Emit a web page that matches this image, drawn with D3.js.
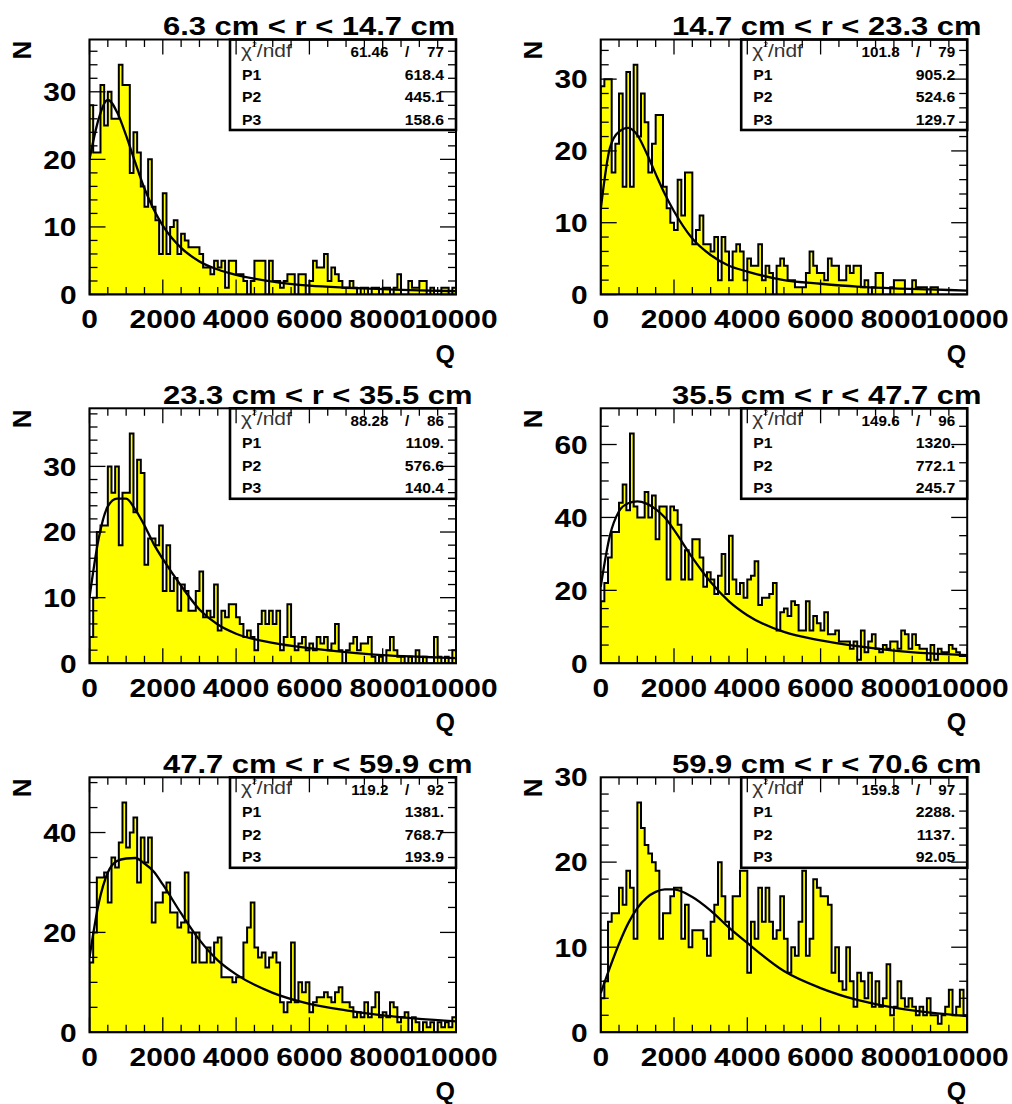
<!DOCTYPE html>
<html>
<head>
<meta charset="utf-8">
<script src="https://cdn.jsdelivr.net/npm/d3@7"></script>
<style>
  body { margin: 0; background: #fff; }
  svg { display: block; }
  text { font-family: "Liberation Sans", Arial, Helvetica, sans-serif; }
</style>
</head>
<body>
<svg id="chart" width="1012" height="1104"></svg>
<script>
// ---- Q histograms of six radial slices, 100 bins from 0 to 10000 ----
const qMin = 0, qMax = 10000, nBins = 100;

const titles = [
  "6.3 cm < r < 14.7 cm", "14.7 cm < r < 23.3 cm",
  "23.3 cm < r < 35.5 cm", "35.5 cm < r < 47.7 cm",
  "47.7 cm < r < 59.9 cm", "59.9 cm < r < 70.6 cm"
];

// bin contents, one array per slice
const counts1 = [
  28,21,21,31,25,30,26,26,34,31, 31,18,24,21,16,13,20,13,11,6,
  15,6,10,11,6,9,8,7,7,7, 6,4,4,3,5,4,5,1,5,5,
  3,3,2,0,2,5,5,5,0,5, 2,2,1,2,3,3,0,3,3,0,
  2,5,4,4,6,2,4,3,2,1, 1,2,1,0,1,1,0,1,1,0,
  1,1,0,1,3,0,0,2,1,1, 2,2,0,1,0,0,1,1,0,1];
const counts2 = [
  29,30,30,17,21,28,15,31,15,32, 22,28,24,17,21,25,25,15,12,10,
  9,16,11,17,17,7,9,11,7,7, 6,8,2,8,6,2,6,7,6,2,
  5,4,4,7,2,4,3,0,4,5, 4,2,2,1,1,1,3,6,4,3,
  3,2,5,4,4,2,2,4,3,4, 4,1,2,0,1,3,3,0,0,1,
  2,2,2,0,0,2,1,1,1,0, 1,1,0,0,0,0,0,0,0,0];
const counts3 = [
  4,10,20,21,21,30,26,30,18,26, 26,35,23,31,29,15,19,19,18,21,
  11,18,11,13,8,12,11,8,8,11, 14,7,8,7,12,5,8,7,9,9,
  7,6,4,5,4,2,6,8,6,8, 6,8,2,4,9,4,2,3,4,2,
  3,2,4,3,4,2,3,6,2,0, 2,3,4,2,3,3,4,1,0,1,
  0,2,4,2,1,1,0,1,0,2, 0,1,0,0,4,1,0,1,0,2];
const counts4 = [
  17,22,29,36,36,44,49,42,63,43, 40,40,47,40,46,34,43,43,23,43,
  42,38,23,31,23,34,34,29,21,25, 23,19,24,30,19,35,23,19,22,18,
  23,24,28,16,18,18,19,22,9,14, 15,13,17,16,9,9,17,9,13,11,
  9,14,8,8,9,6,6,6,4,6, 1,9,3,6,8,4,3,5,4,6,
  6,4,9,8,4,8,5,4,4,1, 5,1,4,3,3,5,4,3,2,2];
const counts5 = [
  14,20,31,31,32,26,35,33,38,46, 37,40,43,30,39,34,39,22,26,26,
  28,30,24,24,21,22,32,20,14,20, 14,14,17,14,18,19,11,11,11,10,
  11,11,18,21,26,17,15,16,13,15, 16,14,6,4,6,18,6,10,8,10,
  4,6,7,7,8,7,6,8,9,6, 6,5,3,4,3,6,3,5,8,3,
  4,3,6,5,2,3,4,0,3,2, 0,2,1,2,0,2,1,2,1,3];
const counts6 = [
  4,6,13,14,14,17,15,19,17,11, 27,24,22,21,20,19,11,14,14,16,
  17,17,11,15,10,12,12,12,11,9, 13,15,20,16,13,11,16,16,19,19,
  7,13,11,17,13,17,13,11,12,16, 11,7,10,9,13,19,9,11,18,17,
  16,16,15,7,10,6,5,10,6,3, 7,6,4,7,3,6,3,4,8,2,
  3,6,4,3,4,3,2,3,2,4, 2,2,1,2,3,5,2,3,5,2];

// fitted curve sampled along Q
const fitQ = [0,250,500,750,1000,1250,1500,1750,2000,2500,3000,3500,4000,5000,6000,7000,8000,9000,10000];
const fit1 = [20,26,28.8,27,23.5,19.5,15.7,12.6,10.2,6.9,4.9,3.7,2.9,1.9,1.3,1.0,0.8,0.6,0.5];
const fit2 = [11.8,20.4,22.7,23.2,22.2,19.7,16.8,14.0,11.6,7.8,5.5,4.0,3.2,2.0,1.5,1.1,0.85,0.7,0.55];
const fit3 = [10,19,23.9,25.1,25.1,23.4,21,18.2,15.9,11.8,8.2,5.9,4.5,3.1,2.3,1.7,1.25,1.0,0.8];
const fit4 = [21,35,41.7,43.9,44.4,43.8,42.3,40,36.6,29,22.3,17,13.2,8.6,6.3,4.7,3.5,2.7,2.2];
const fit5 = [15,25.8,32,34.3,34.8,34.9,33.8,32.2,29.6,23.8,18.5,14.4,11.6,7.9,5.7,4.4,3.4,2.7,2.2];
const fit6 = [4.6,7.6,10.4,12.8,14.6,15.8,16.5,16.8,16.8,15.9,14.3,12.3,10.5,7.2,5.2,3.8,2.9,2.3,1.9];

// fit statistics box
const chi2 = ["61.46","101.8","88.28","149.6","119.2","159.3"];
const ndf  = ["77","79","86","96","92","97"];
const parP1 = ["618.4","905.2","1109.","1320.","1381.","2288."];
const parP2 = ["445.1","524.6","576.6","772.1","768.7","1137."];
const parP3 = ["158.6","129.7","140.4","245.7","193.9","92.05"];

// axis ticks
const xTickLabels = [0,2000,4000,6000,8000,10000];
const yTickLabels = [[0,10,20,30],[0,10,20,30],[0,10,20,30],[0,20,40,60],[0,20,40],[0,10,20,30]];
const yMinorStep = [2,2,2,5,5,2];

const allCounts = [counts1,counts2,counts3,counts4,counts5,counts6];
const allFits = [fit1,fit2,fit3,fit4,fit5,fit6];

// ---- layout ----
const colLeft = [89.5, 600.7];
const rowTop = [39.5, 408.3, 777.3];
const frameW = 366.5, frameH = 255;
const titleX = [163, 672];
const SX = 1.15;           // horizontal glyph stretch of the labels

const svg = d3.select("#chart");

function label(g, x, y, str, opts) {
  return g.append("text")
    .attr("transform", `translate(${x},${y}) ${opts.rot ? `rotate(${opts.rot})` : ""} scale(${opts.sx || 1},1)`)
    .attr("font-size", opts.size)
    .attr("font-weight", opts.weight || "bold")
    .attr("text-anchor", opts.anchor || "start")
    .attr("fill", "#000")
    .text(str);
}

allCounts.forEach((counts, p) => {
  const col = p % 2, row = Math.floor(p / 2);
  const L = colLeft[col], T = rowTop[row], R = L + frameW, B = T + frameH;
  const yMax = 1.11 * d3.max(counts);

  const x = d3.scaleLinear().domain([qMin, qMax]).range([L, R]);
  const y = d3.scaleLinear().domain([0, yMax]).range([B, T]);
  const bw = (qMax - qMin) / nBins;

  const g = svg.append("g");
  const clipId = "clip" + p;
  g.append("clipPath").attr("id", clipId)
    .append("rect").attr("x", L).attr("y", T).attr("width", frameW).attr("height", frameH);

  // histogram as a filled step outline
  const path = d3.path();
  path.moveTo(x(qMin), y(0));
  counts.forEach((c, i) => {
    path.lineTo(x(qMin + i * bw), y(c));
    path.lineTo(x(qMin + (i + 1) * bw), y(c));
  });
  path.lineTo(x(qMax), y(0));
  path.closePath();
  g.append("path").attr("d", path.toString())
    .attr("clip-path", `url(#${clipId})`)
    .attr("fill", "#ffff00").attr("stroke", "#000")
    .attr("stroke-width", 2).attr("stroke-linejoin", "miter");

  // fitted curve
  const line = d3.line().x(d => x(d[0])).y(d => y(d[1])).curve(d3.curveMonotoneX);
  g.append("path").attr("d", line(fitQ.map((q, i) => [q, allFits[p][i]])))
    .attr("clip-path", `url(#${clipId})`)
    .attr("fill", "none").attr("stroke", "#000").attr("stroke-width", 2.3);

  // statistics box
  const bxL = L + 140.5, bxW = R - bxL, bxH = 90.5;
  g.append("rect").attr("x", bxL).attr("y", T).attr("width", bxW).attr("height", bxH)
    .attr("fill", "#fff").attr("stroke", "#000").attr("stroke-width", 2.6);
  const rowsY = [17.5, 40, 62.5, 85];
  const chiT = g.append("text")
    .attr("transform", `translate(${bxL + 11},${T + rowsY[0] - 0.5}) scale(1.1,1)`)
    .attr("font-size", 19).attr("font-weight", "normal").attr("fill", "#333");
  chiT.append("tspan").text("\u03c7");
  chiT.append("tspan").attr("font-size", 8).attr("dy", -10).text("2");
  chiT.append("tspan").attr("dy", 10).text("/ndf");
  label(g, R - 67.5, T + rowsY[0], chi2[p], {size: 14.5, sx: 1.05, anchor: "end"});
  label(g, R - 49, T + rowsY[0], "/", {size: 14.5, sx: 1.05, anchor: "middle"});
  label(g, R - 12, T + rowsY[0], ndf[p], {size: 14.5, sx: 1.05, anchor: "end"});
  [["P1", parP1[p]], ["P2", parP2[p]], ["P3", parP3[p]]].forEach((r, k) => {
    label(g, bxL + 12, T + rowsY[k + 1], r[0], {size: 15, sx: 1.05});
    label(g, R - 12, T + rowsY[k + 1], r[1], {size: 15, sx: 1.05, anchor: "end"});
  });

  // frame
  g.append("rect").attr("x", L).attr("y", T).attr("width", frameW).attr("height", frameH)
    .attr("fill", "none").attr("stroke", "#000").attr("stroke-width", 2);

  // ticks on all four sides, pointing inwards
  const ticks = g.append("g").attr("stroke", "#000").attr("stroke-width", 1.3);
  d3.range(qMin, qMax + 1, 500).forEach(q => {
    const len = q % 2000 === 0 ? 15 : 7.5;
    ticks.append("line").attr("x1", x(q)).attr("x2", x(q)).attr("y1", B).attr("y2", B - len);
    ticks.append("line").attr("x1", x(q)).attr("x2", x(q)).attr("y1", T).attr("y2", T + len);
  });
  const majorY = yTickLabels[p][1] - yTickLabels[p][0];
  d3.range(0, yMax, yMinorStep[p]).forEach(v => {
    const len = Math.abs(v % majorY) < 1e-9 ? 16 : 8;
    ticks.append("line").attr("x1", L).attr("x2", L + len).attr("y1", y(v)).attr("y2", y(v));
    ticks.append("line").attr("x1", R).attr("x2", R - len).attr("y1", y(v)).attr("y2", y(v));
  });

  // tick labels
  xTickLabels.forEach(q => label(g, x(q), B + 33.5, String(q), {size: 26, sx: SX, anchor: "middle"}));
  yTickLabels[p].forEach(v => label(g, L - 13, y(v) + 9.3, String(v), {size: 26, sx: SX, anchor: "end"}));

  // axis titles and slice title
  label(g, L - 59, T + 10.5, "N", {size: 26, sx: 1, rot: -90, anchor: "middle"});
  label(g, R - 1, B + 68, "Q", {size: 25, sx: 1.0, anchor: "end"});
  label(g, titleX[col], T - 4.5, titles[p], {size: 26, sx: 1.19});
});
</script>
</body>
</html>
